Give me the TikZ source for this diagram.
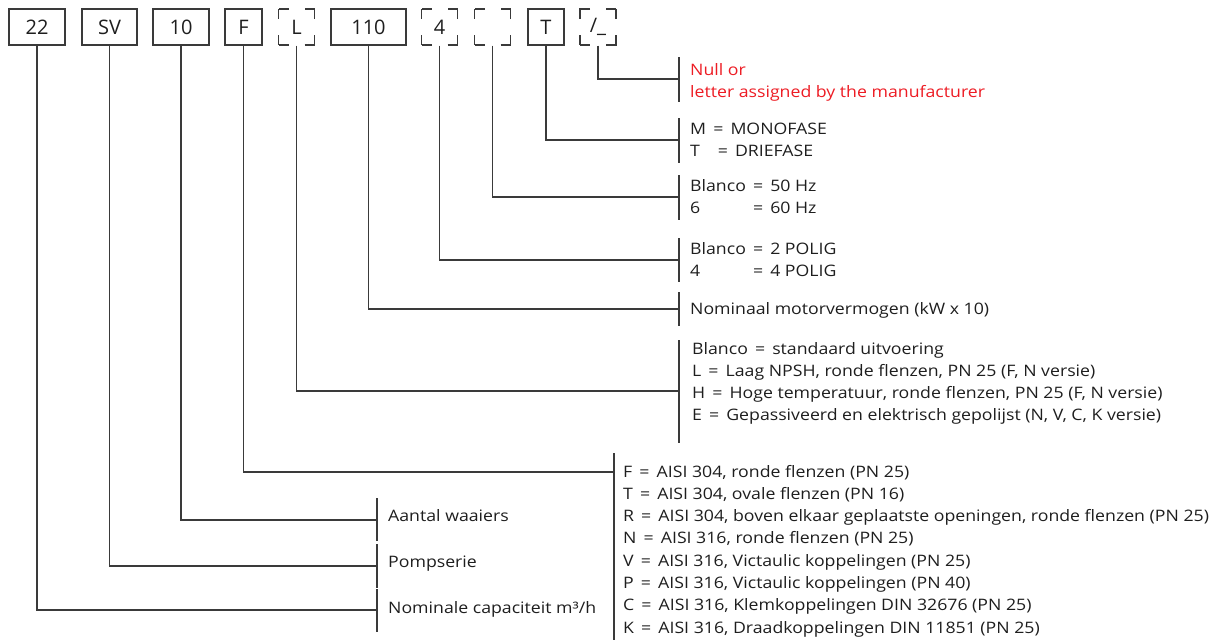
\documentclass[tikz,border=0pt]{standalone}
\usepackage{fontspec}
\setmainfont{Open Sans}
\newfontfamily\labfont{Open Sans}[FakeStretch=1.12]
\newcommand\eqs{\hspace{2.5pt}=\hspace{2.5pt}}
\definecolor{ln}{HTML}{3A3A3A}
\definecolor{tx}{HTML}{1E1E1E}
\definecolor{redt}{HTML}{ED1C24}
\begin{document}
\begin{tikzpicture}[x=1pt,y=-1pt,
  conn/.style={draw=ln,line width=1.2pt},
  codebox/.style={draw=ln,line width=1.2pt,minimum height=36pt,inner sep=0pt,
    text=tx,font=\fontsize{20}{22}\selectfont},
  optbox/.style={codebox,minimum width=36pt,
    dash pattern=on 10pt off 16pt on 10pt off 0pt},
  lab/.style={anchor=base west,inner sep=0pt,text=tx,
    font=\labfont\fontsize{15.8}{22.3}\selectfont},
  redlab/.style={lab,text=redt}]
\useasboundingbox (0,0) rectangle (1216,640);
% code boxes
\node[codebox,minimum width=56pt] (b22)  at (37,27)    {22};
\node[codebox,minimum width=55pt] (bSV)  at (109.5,27) {SV};
\node[codebox,minimum width=56pt] (b10)  at (181,27)   {10};
\node[codebox,minimum width=37pt] (bF)   at (243.5,27) {F};
\node[optbox] (bL)   at (296.5,27) {L};
\node[codebox,minimum width=75pt] (b110) at (368.5,27) {110};
\node[optbox] (b4)   at (439.5,27) {4};
\node[optbox] (bHz)  at (492.5,27) {};
\node[codebox,minimum width=36pt] (bT)   at (546,27)   {T};
\node[optbox] (bX)   at (598,27)   {/\_};
% tick coordinates
\coordinate (tX)   at (679,79);
\coordinate (tT)   at (679,140);
\coordinate (tHz)  at (679,197);
\coordinate (t4)   at (679,260);
\coordinate (t110) at (679,309);
\coordinate (tL)   at (679,391);
\coordinate (tF)   at (614,472);
\coordinate (t10)  at (377,520);
\coordinate (tSV)  at (377,566);
\coordinate (t22)  at (377,610);
% ticks
\draw[conn] ([yshift=22pt]tX) -- ([yshift=-23pt]tX);
\draw[conn] ([yshift=22pt]tT) -- ([yshift=-23pt]tT);
\draw[conn] ([yshift=22pt]tHz) -- ([yshift=-23pt]tHz);
\draw[conn] ([yshift=22pt]t4) -- ([yshift=-22pt]t4);
\draw[conn] ([yshift=17pt]t110) -- ([yshift=-17pt]t110);
\draw[conn] ([yshift=51pt]tL) -- ([yshift=-52pt]tL);
\draw[conn] ([yshift=19pt]tF) -- ([yshift=-168pt]tF);
\draw[conn] ([yshift=22pt]t10) -- ([yshift=-21pt]t10);
\draw[conn] ([yshift=22pt]tSV) -- ([yshift=-22pt]tSV);
\draw[conn] ([yshift=21pt]t22) -- ([yshift=-22pt]t22);
% connectors
\draw[conn] (bX.south) |- (tX);
\draw[conn] (bT.south) |- (tT);
\draw[conn] (bHz.south) |- (tHz);
\draw[conn] (b4.south) |- (t4);
\draw[conn] (b110.south) |- (t110);
\draw[conn] (bL.south) |- (tL);
\draw[conn] (bF.south) |- (tF);
\draw[conn] (b10.south) |- (t10);
\draw[conn] (bSV.south) |- (tSV);
\draw[conn] (b22.south) |- (t22);
% labels
\node[redlab] (lX) at (690,75) {\begin{tabular}[t]{@{}l@{}}Null or\\letter assigned by the manufacturer\end{tabular}};
\node[lab] (lT) at (690,134) {\begin{tabular}[t]{@{}l@{\ }l@{}}M & \eqs{} MONOFASE\\T & \ \eqs{} DRIEFASE\end{tabular}};
\node[lab] (lHz) at (690,191) {\begin{tabular}[t]{@{}l@{\ }l@{}}Blanco & \eqs{} 50 Hz\\6 & \eqs{} 60 Hz\end{tabular}};
\node[lab] (l4) at (690,254) {\begin{tabular}[t]{@{}l@{\ }l@{}}Blanco & \eqs{} 2 POLIG\\4 & \eqs{} 4 POLIG\end{tabular}};
\node[lab] (l110) at (690,314) {Nominaal motorvermogen (kW x 10)};
\node[lab] (lL) at (692,354) {\begin{tabular}[t]{@{}l@{}}Blanco \eqs{} standaard uitvoering\\
L \eqs{} Laag NPSH, ronde flenzen, PN 25 (F, N versie)\\
H \eqs{} Hoge temperatuur, ronde flenzen, PN 25 (F, N versie)\\
E \eqs{} Gepassiveerd en elektrisch gepolijst (N, V, C, K versie)\end{tabular}};
\node[lab] (lF) at (623,477) {\begin{tabular}[t]{@{}l@{}}F \eqs{} AISI 304, ronde flenzen (PN 25)\\
T \eqs{} AISI 304, ovale flenzen (PN 16)\\
R \eqs{} AISI 304, boven elkaar geplaatste openingen, ronde flenzen (PN 25)\\
N \eqs{} AISI 316, ronde flenzen (PN 25)\\
V \eqs{} AISI 316, Victaulic koppelingen (PN 25)\\
P \eqs{} AISI 316, Victaulic koppelingen (PN 40)\\
C \eqs{} AISI 316, Klemkoppelingen DIN 32676 (PN 25)\\
K \eqs{} AISI 316, Draadkoppelingen DIN 11851 (PN 25)\end{tabular}};
\node[lab] (l10) at (388,521) {Aantal waaiers};
\node[lab] (lSV) at (388,567) {Pompserie};
\node[lab] (l22) at (388,613) {Nominale capaciteit m³/h};
\end{tikzpicture}
\end{document}
